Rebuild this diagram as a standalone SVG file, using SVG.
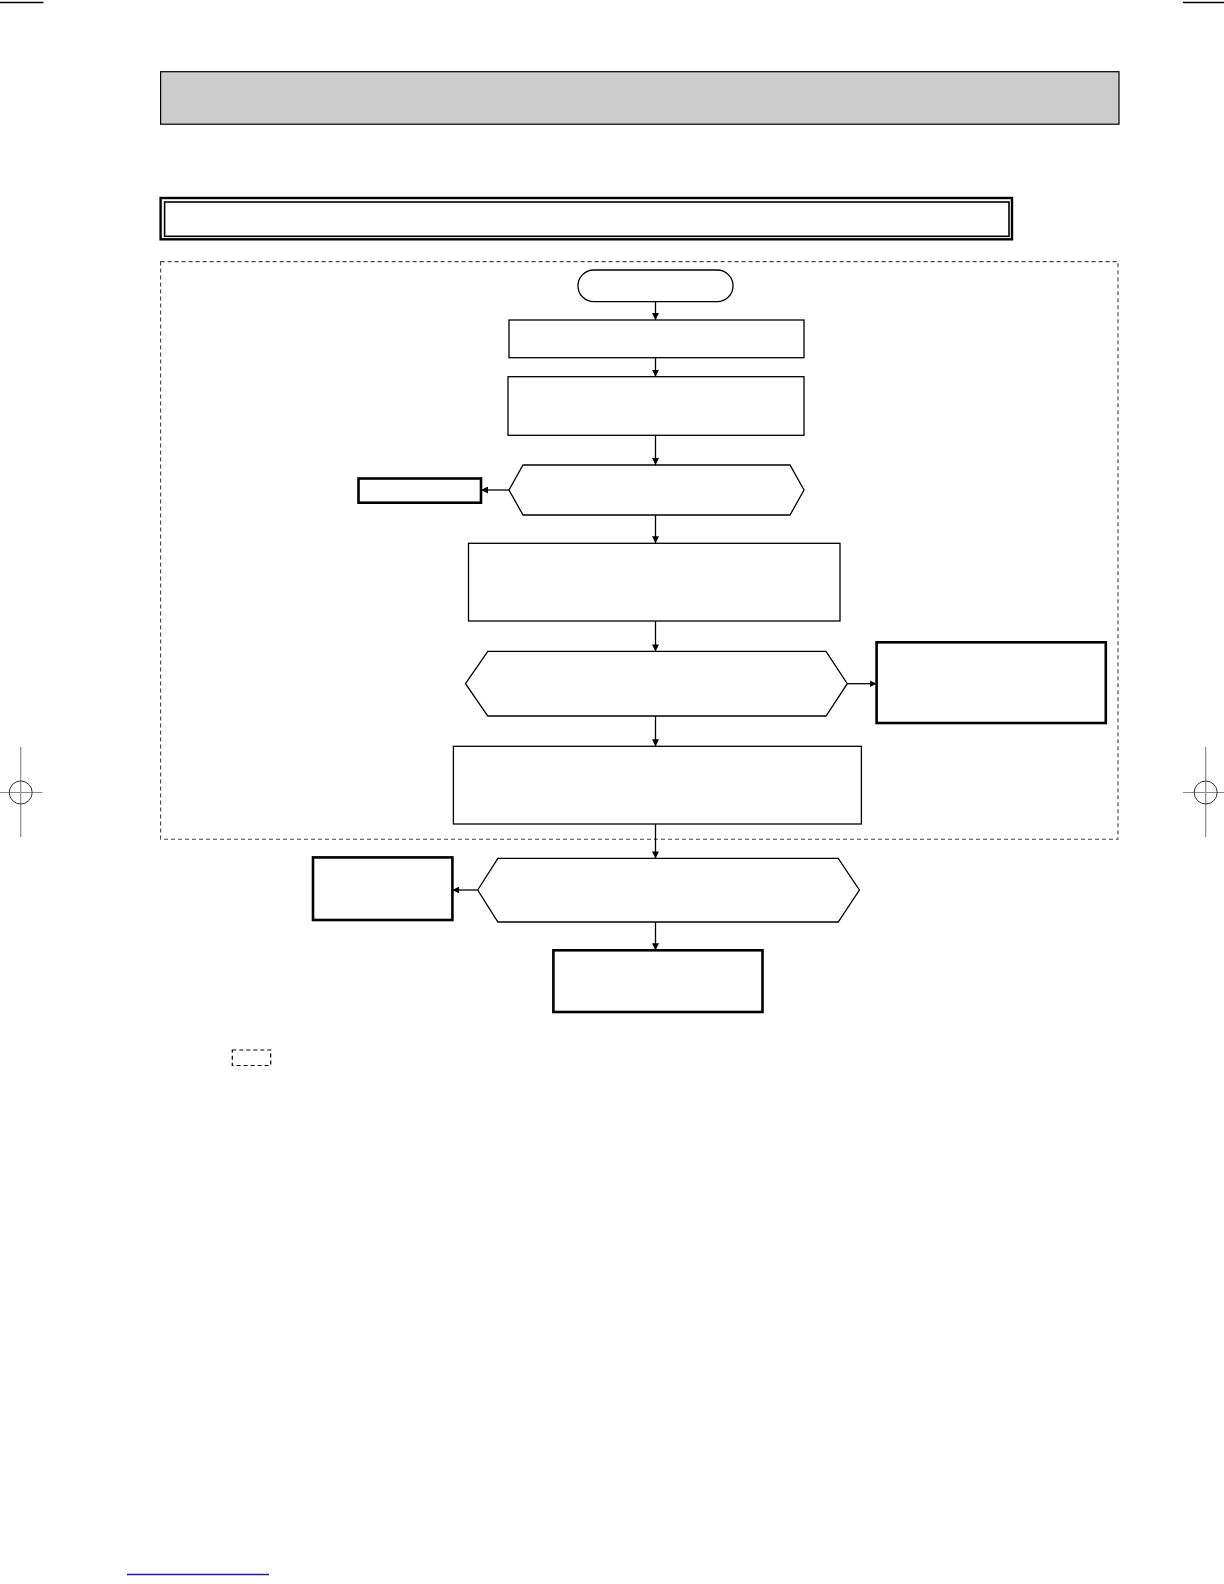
<svg xmlns="http://www.w3.org/2000/svg" width="1224" height="1584" viewBox="0 0 1224 1584">
<defs>
<style>
.n{fill:#fff;stroke:#000;stroke-width:1.3}
.t{fill:#fff;stroke:#000;stroke-width:2.6}
.c{fill:none;stroke:#000;stroke-width:1.3}
.reg{stroke:#8a8a8a;stroke-width:1.2;fill:none}
</style>
<marker id="ah" viewBox="0 0 10 10" refX="10" refY="5" markerWidth="7" markerHeight="7" markerUnits="userSpaceOnUse" orient="auto">
<path d="M0,0 L10,5 L0,10 z" fill="#000"/>
</marker>
</defs>
<rect width="1224" height="1584" fill="#fff"/>
<g id="cropmarks">
<line x1="0" y1="2.5" x2="43.5" y2="2.5" stroke="#000" stroke-width="1.3"/>
<line x1="1183" y1="2.5" x2="1224" y2="2.5" stroke="#000" stroke-width="1.3"/>
<line class="reg" x1="20.7" y1="747" x2="20.7" y2="837"/>
<line class="reg" x1="0" y1="792.5" x2="42.5" y2="792.5"/>
<circle cx="20.7" cy="792.5" r="11.5" fill="none" stroke="#333" stroke-width="1"/>
<line class="reg" x1="1205.7" y1="747" x2="1205.7" y2="837"/>
<line class="reg" x1="1183" y1="792.5" x2="1224" y2="792.5"/>
<circle cx="1205.7" cy="792.5" r="11.5" fill="none" stroke="#333" stroke-width="1"/>
</g>
<g id="header">
<rect x="160.6" y="71.7" width="958.4" height="52.5" fill="#cccccc" stroke="#000" stroke-width="1.2"/>
</g>
<g id="title">
<rect x="160.6" y="198" width="851.4" height="41.3" fill="#fff" stroke="#000" stroke-width="2.4"/>
<rect x="164.6" y="202" width="844.4" height="34.3" fill="none" stroke="#000" stroke-width="1.6"/>
</g>
<g id="container">
<rect x="160.6" y="261.6" width="957.4" height="577.6" fill="none" stroke="#444" stroke-width="1.1" stroke-dasharray="4,3"/>
</g>
<g id="connectors">
<line class="c" x1="655.5" y1="301.7" x2="655.5" y2="320" marker-end="url(#ah)"/>
<line class="c" x1="655.5" y1="357.7" x2="655.5" y2="376.7" marker-end="url(#ah)"/>
<line class="c" x1="655.5" y1="435.3" x2="655.5" y2="465" marker-end="url(#ah)"/>
<line class="c" x1="509" y1="490" x2="481" y2="490" marker-end="url(#ah)"/>
<line class="c" x1="655.5" y1="515" x2="655.5" y2="543.3" marker-end="url(#ah)"/>
<line class="c" x1="655.5" y1="621" x2="655.5" y2="651.4" marker-end="url(#ah)"/>
<line class="c" x1="847.3" y1="683.7" x2="876.6" y2="683.7" marker-end="url(#ah)"/>
<line class="c" x1="655.5" y1="716" x2="655.5" y2="746.3" marker-end="url(#ah)"/>
<line class="c" x1="655.5" y1="824" x2="655.5" y2="858.4" marker-end="url(#ah)"/>
<line class="c" x1="477.7" y1="890" x2="452.4" y2="890" marker-end="url(#ah)"/>
<line class="c" x1="655.5" y1="922" x2="655.5" y2="950.3" marker-end="url(#ah)"/>
</g>
<g id="start"><rect class="n" x="578" y="270" width="155" height="31.7" rx="15.8"/></g>
<g id="box1"><rect class="n" x="509" y="320" width="295" height="37.7" stroke="#555"/></g>
<g id="box2"><rect class="n" x="508" y="376.7" width="296" height="58.6"/></g>
<g id="decision1"><polygon class="n" points="509,490 523,465 790,465 804,490 790,515 523,515"/></g>
<g id="result1"><rect class="t" x="358.5" y="478.5" width="122.5" height="24.2"/></g>
<g id="box3"><rect class="n" x="468.5" y="543.3" width="371.5" height="77.7"/></g>
<g id="decision2"><polygon class="n" points="465.5,683.7 487.8,651.4 826,651.4 847.3,683.7 826,716 487.8,716"/></g>
<g id="result2"><rect class="t" x="876.6" y="642.3" width="229.2" height="80.7"/></g>
<g id="box4"><rect class="n" x="453.4" y="746.3" width="408" height="77.7"/></g>
<g id="decision3"><polygon class="n" points="477.7,890 497.9,858.4 838.2,858.4 859.4,890 838.2,922 497.9,922"/></g>
<g id="result3"><rect class="t" x="313" y="857.4" width="139.4" height="62.6"/></g>
<g id="result4"><rect class="t" x="553.4" y="950.3" width="209.1" height="61.7"/></g>
<g id="legend"><rect x="232.3" y="1050" width="38.4" height="15.5" fill="none" stroke="#000" stroke-width="1.2" stroke-dasharray="4,3"/></g>
<g id="footer"><line x1="127" y1="1574.5" x2="269" y2="1574.5" stroke="#1a1a9a" stroke-width="1.5"/></g>
</svg>
